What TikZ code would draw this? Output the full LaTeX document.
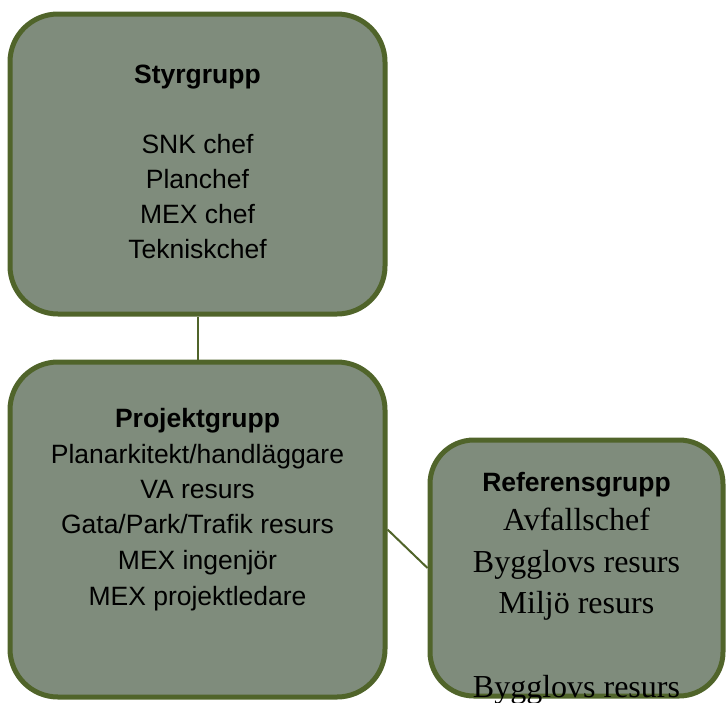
\documentclass[tikz,border=0pt]{standalone}
\usepackage{fontspec}
\setmainfont{Liberation Sans}
\newfontfamily\timesfont{Liberation Serif}
\usetikzlibrary{positioning}
\definecolor{boxfill}{RGB}{127,140,124}
\definecolor{boxline}{RGB}{80,100,42}
\newcommand\tms{\timesfont\fontsize{32}{42}\selectfont}
\tikzset{
  groupbox/.style={draw=boxline, fill=boxfill, line width=5pt, rounded corners=48pt, inner sep=0pt},
  grouptext/.style={align=center, inner sep=0pt, font=\fontsize{26.5}{35}\selectfont},
  link/.style={draw=boxline, line width=2pt}
}
\begin{document}
\begin{tikzpicture}[x=1pt,y=-1pt]
 \useasboundingbox (0,0) rectangle (726,702);
 \node (styr) [groupbox, minimum width=375pt, minimum height=300pt] at (197.5,164) {};
 \node (proj) [groupbox, minimum width=375pt, minimum height=335pt] at (197.5,529.5) {};
 \node (ref) [groupbox, minimum width=293pt, minimum height=256pt, rounded corners=44pt] at (576.5,568) {};

 \path (styr) edge [link] (proj);
 \path (proj.east) edge [link] (ref.west);

 \node (styrtext) [grouptext, below=53pt of styr.north]
  {\textbf{Styrgrupp}\\[35pt] SNK chef\\ Planchef\\ MEX chef\\ Tekniskchef};
 \node (projtext) [grouptext, below=49pt of proj.north]
  {\textbf{Projektgrupp}\\[1pt] Planarkitekt/handläggare\\ VA resurs\\ Gata/Park/Trafik resurs\\[1pt] MEX ingenjör\\[1pt] MEX projektledare};
 \node (reftext) [grouptext, below=35pt of ref.north]
  {\textbf{Referensgrupp}\\[4pt]
   \tms Avfallschef\\[7pt] \tms Bygglovs resurs\\[6pt] \tms Miljö resurs\\[49pt] \tms Bygglovs resurs};
\end{tikzpicture}
\end{document}
